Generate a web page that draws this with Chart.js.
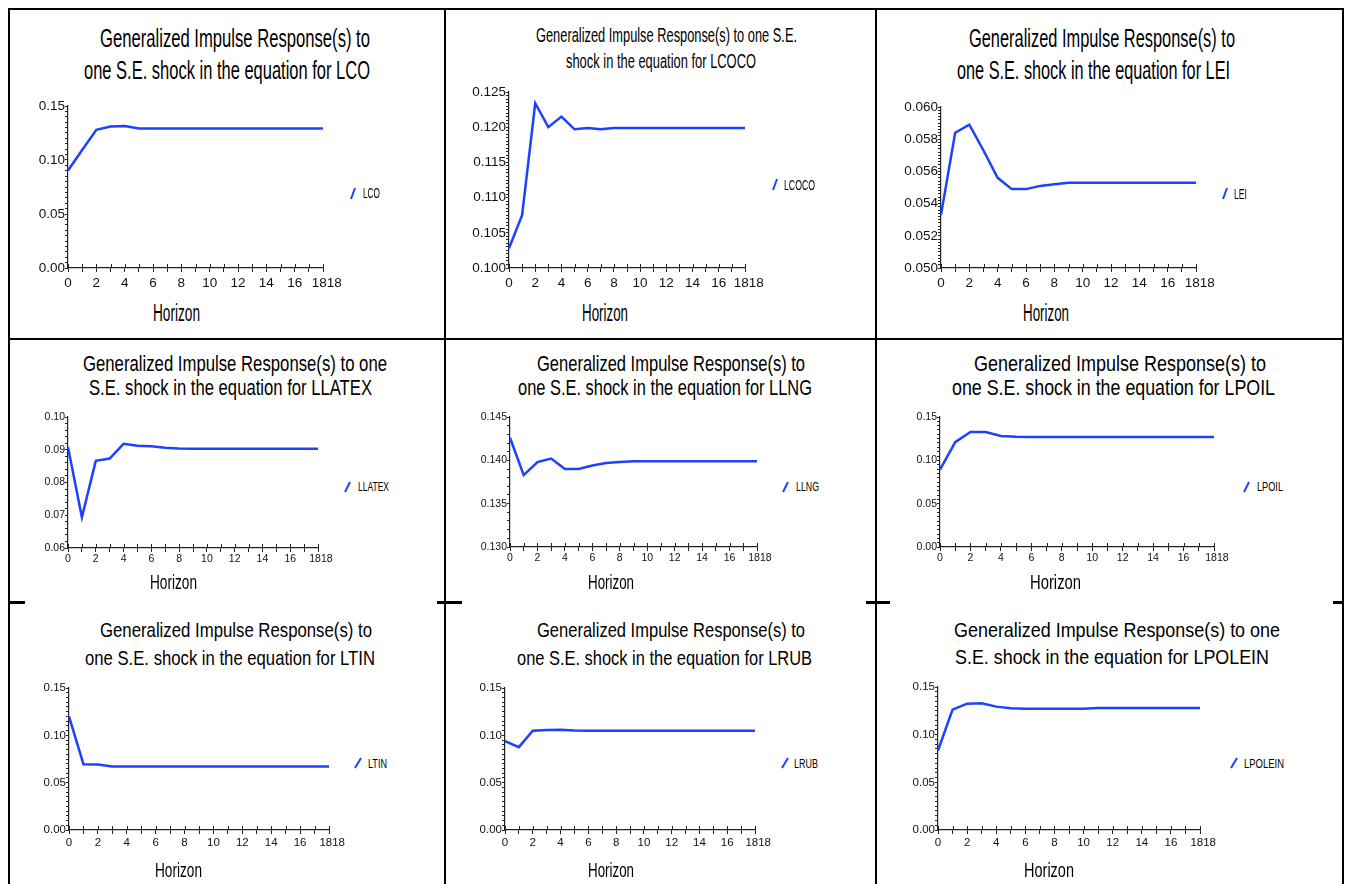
<!DOCTYPE html>
<html>
<head>
<meta charset="utf-8">
<script src="https://cdn.jsdelivr.net/npm/chart.js@4.4.1/dist/chart.umd.min.js"></script>
<style>
  body { margin: 0; background: #fff; width: 1348px; height: 884px; overflow: hidden; position: relative;
         font-family: "Liberation Sans", Arial, sans-serif; }
  .rule { position: absolute; background: #000; }
  .txt { position: absolute; white-space: nowrap; line-height: 1; color: #000; transform-origin: left top; }
  .box { position: absolute; }
  svg.slash { position: absolute; left: 0; top: 0; overflow: visible; }
</style>
</head>
<body>
<script>
// horizons 0..18
const horizons = ['0', '1', '2', '3', '4', '5', '6', '7', '8', '9', '10', '11', '12', '13', '14', '15', '16', '17', '18'];

// impulse responses
const respLCO     = [0.0902, 0.1092, 0.1280, 0.1310, 0.1315, 0.1292, 0.1292, 0.1292, 0.1292, 0.1292, 0.1292, 0.1292, 0.1292, 0.1292, 0.1292, 0.1292, 0.1292, 0.1292, 0.1292];
const respLCOCO   = [0.1028, 0.1075, 0.1234, 0.1200, 0.1215, 0.1197, 0.1199, 0.1197, 0.1199, 0.1199, 0.1199, 0.1199, 0.1199, 0.1199, 0.1199, 0.1199, 0.1199, 0.1199, 0.1199];
const respLEI     = [0.0533, 0.0584, 0.0589, 0.0573, 0.0556, 0.0549, 0.0549, 0.0551, 0.0552, 0.0553, 0.0553, 0.0553, 0.0553, 0.0553, 0.0553, 0.0553, 0.0553, 0.0553, 0.0553];
const respLLATEX  = [0.0908, 0.0694, 0.0866, 0.0873, 0.0918, 0.0912, 0.0911, 0.0906, 0.0904, 0.0903, 0.0903, 0.0903, 0.0903, 0.0903, 0.0903, 0.0903, 0.0903, 0.0903, 0.0903];
const respLLNG    = [0.1426, 0.1383, 0.1398, 0.1402, 0.1390, 0.1390, 0.1394, 0.1397, 0.1398, 0.1399, 0.1399, 0.1399, 0.1399, 0.1399, 0.1399, 0.1399, 0.1399, 0.1399, 0.1399];
const respLPOIL   = [0.0892, 0.1210, 0.1327, 0.1327, 0.1280, 0.1272, 0.1270, 0.1270, 0.1270, 0.1270, 0.1270, 0.1270, 0.1270, 0.1270, 0.1270, 0.1270, 0.1270, 0.1270, 0.1270];
const respLTIN    = [0.1200, 0.0695, 0.0693, 0.0672, 0.0670, 0.0670, 0.0670, 0.0670, 0.0670, 0.0670, 0.0670, 0.0670, 0.0670, 0.0670, 0.0670, 0.0670, 0.0670, 0.0670, 0.0670];
const respLRUB    = [0.0939, 0.0875, 0.1048, 0.1057, 0.1059, 0.1050, 0.1048, 0.1048, 0.1048, 0.1048, 0.1048, 0.1048, 0.1048, 0.1048, 0.1048, 0.1048, 0.1048, 0.1048, 0.1048];
const respLPOLEIN = [0.0834, 0.1262, 0.1325, 0.1330, 0.1294, 0.1276, 0.1272, 0.1272, 0.1272, 0.1272, 0.1272, 0.1281, 0.1281, 0.1281, 0.1281, 0.1281, 0.1281, 0.1281, 0.1281];

// y-axis ranges per panel: [min, max, labelled step, minor step, decimals]
const axisLCO     = [0, 0.15, 0.05, 0.005, 2];
const axisLCOCO   = [0.100, 0.125, 0.005, 0.0005, 3];
const axisLEI     = [0.050, 0.060, 0.002, 0.0002, 3];
const axisLLATEX  = [0.06, 0.10, 0.01, 0.002, 2];
const axisLLNG    = [0.130, 0.145, 0.005, 0.001, 3];
const axisLPOIL   = [0, 0.15, 0.05, 0.005, 2];
const axisLTIN    = [0, 0.15, 0.05, 0.005, 2];
const axisLRUB    = [0, 0.15, 0.05, 0.005, 2];
const axisLPOLEIN = [0, 0.15, 0.05, 0.005, 2];

const BLUE = '#1e40ff';
const AXIS = '#222';
const NARROW = '"Liberation Sans Narrow", "Arial Narrow", "Liberation Sans", Arial, sans-serif';

// layout: plot area [left, top, right, bottom], title lines [text, left, baseline, width], etc.
const panels = [
  { name: 'LCO', values: respLCO, axis: axisLCO, area: [68, 106, 323, 268], tickFont: 13.5, tickPad: 3,
    titleSize: 26.5, title: [['Generalized Impulse Response(s) to', 100, 48, 270], ['one S.E. shock in the equation for LCO', 84, 80, 286]],
    horizon: [153, 322, 47, 23], legend: [351, 199, 355, 188, 363, 198, 17, 14] },
  { name: 'LCOCO', values: respLCOCO, axis: axisLCOCO, area: [509, 92, 745, 268], tickFont: 13.5, tickPad: 3,
    titleSize: 20.5, title: [['Generalized Impulse Response(s) to one S.E.', 536, 42, 261], ['shock in the equation for LCOCO', 566, 68, 190]],
    horizon: [582, 322, 46, 23], legend: [773, 190, 777, 179, 784, 190, 31, 15] },
  { name: 'LEI', values: respLEI, axis: axisLEI, area: [941, 107, 1196, 268], tickFont: 13.5, tickPad: 3,
    titleSize: 26.5, title: [['Generalized Impulse Response(s) to', 969, 48, 266], ['one S.E. shock in the equation for LEI', 957, 80, 273]],
    horizon: [1023, 322, 46, 23], legend: [1223, 199, 1227, 188, 1234, 199, 13, 15] },
  { name: 'LLATEX', values: respLLATEX, axis: axisLLATEX, area: [68, 417, 318, 548], tickFont: 10.5, tickPad: 1,
    titleSize: 22, title: [['Generalized Impulse Response(s) to one', 83, 372, 304], ['S.E. shock in the equation for LLATEX', 89, 396, 283]],
    horizon: [150, 590, 47, 19.5], legend: [345, 492, 350, 482, 358, 491, 31, 12] },
  { name: 'LLNG', values: respLLNG, axis: axisLLNG, area: [510, 417, 757, 547], tickFont: 10.5, tickPad: 1,
    titleSize: 22, title: [['Generalized Impulse Response(s) to', 537, 372, 268], ['one S.E. shock in the equation for LLNG', 518, 396, 294]],
    horizon: [588, 590, 46, 19.5], legend: [783, 492, 788, 482, 796, 491, 23, 12] },
  { name: 'LPOIL', values: respLPOIL, axis: axisLPOIL, area: [940, 417, 1214, 547], tickFont: 10.5, tickPad: 1,
    titleSize: 22, title: [['Generalized Impulse Response(s) to', 974, 372, 292], ['one S.E. shock in the equation for LPOIL', 952, 396, 323]],
    horizon: [1030, 590, 51, 19.5], legend: [1244, 492, 1249, 482, 1257, 491, 26, 12] },
  { name: 'LTIN', values: respLTIN, axis: axisLTIN, area: [69, 688, 329, 830], tickFont: 11.5, tickPad: 2,
    titleSize: 21, title: [['Generalized Impulse Response(s) to', 100, 637, 272], ['one S.E. shock in the equation for LTIN', 85, 665, 290]],
    horizon: [155, 877, 47, 21], legend: [355, 768, 361, 758, 368, 768, 19, 12] },
  { name: 'LRUB', values: respLRUB, axis: axisLRUB, area: [505, 688, 755, 830], tickFont: 11.5, tickPad: 2,
    titleSize: 21, title: [['Generalized Impulse Response(s) to', 537, 637, 268], ['one S.E. shock in the equation for LRUB', 517, 665, 295]],
    horizon: [588, 877, 46, 21], legend: [782, 768, 788, 758, 794, 768, 24, 12] },
  { name: 'LPOLEIN', values: respLPOLEIN, axis: axisLPOLEIN, area: [938, 687, 1200, 830], tickFont: 11.5, tickPad: 2,
    titleSize: 21, title: [['Generalized Impulse Response(s) to one', 954, 637, 326], ['S.E. shock in the equation for LPOLEIN', 955, 664, 314]],
    horizon: [1024, 877, 50, 21], legend: [1231, 768, 1237, 758, 1244, 768, 40, 12] }
];

// table frame
function rule(x, y, w, h) {
  const d = document.createElement('div');
  d.className = 'rule';
  Object.assign(d.style, { left: x + 'px', top: y + 'px', width: w + 'px', height: h + 'px' });
  document.body.appendChild(d);
}
rule(8, 8, 1336, 2);
rule(8, 338, 1336, 2);
[8, 444, 875, 1342].forEach(x => rule(x, 8, 2, 876));
[[8, 17], [437, 25], [866, 24], [1333, 10]].forEach(([x, w]) => rule(x, 601, w, 3));

// text squeezed to the width it has in the picture
function putText(str, left, baseline, size, width) {
  const el = document.createElement('div');
  el.className = 'txt';
  el.textContent = str;
  el.style.fontSize = size + 'px';
  el.style.left = left + 'px';
  el.style.top = (baseline - size * 0.85) + 'px';
  document.body.appendChild(el);
  const w = el.getBoundingClientRect().width;
  el.style.transform = 'scaleX(' + (width / w) + ')';
}

function putSlash(x1, y1, x2, y2) {
  const ns = 'http://www.w3.org/2000/svg';
  const svg = document.createElementNS(ns, 'svg');
  svg.setAttribute('class', 'slash');
  svg.setAttribute('width', '1');
  svg.setAttribute('height', '1');
  const ln = document.createElementNS(ns, 'line');
  ln.setAttribute('x1', x1); ln.setAttribute('y1', y1);
  ln.setAttribute('x2', x2); ln.setAttribute('y2', y2);
  ln.setAttribute('stroke', BLUE); ln.setAttribute('stroke-width', '2');
  svg.appendChild(ln);
  document.body.appendChild(svg);
}

// x ticks cross the axis
const crossTicks = {
  id: 'crossTicks',
  afterDraw(chart) {
    const { ctx, chartArea } = chart;
    const x = chart.scales.x;
    ctx.save();
    ctx.strokeStyle = AXIS;
    ctx.lineWidth = 1;
    x.ticks.forEach((t, i) => {
      const px = Math.round(x.getPixelForTick(i)) + 0.5;
      ctx.beginPath();
      ctx.moveTo(px, chartArea.bottom);
      ctx.lineTo(px, chartArea.bottom - 4);
      ctx.stroke();
    });
    ctx.restore();
  }
};

panels.forEach(p => {
  const [L, T, R, B] = p.area;
  const [yMin, yMax, major, minor, dec] = p.axis;
  const padL = 50, padT = 10, padR = 30, padB = 30;

  const box = document.createElement('div');
  box.className = 'box';
  Object.assign(box.style, {
    left: (L - padL) + 'px', top: (T - padT) + 'px',
    width: (R - L + padL + padR) + 'px', height: (B - T + padT + padB) + 'px'
  });
  const cv = document.createElement('canvas');
  box.appendChild(cv);
  document.body.appendChild(box);

  new Chart(cv, {
    type: 'line',
    data: {
      labels: horizons,
      datasets: [{
        label: p.name,
        data: p.values,
        borderColor: BLUE,
        borderWidth: 2.5,
        pointRadius: 0,
        tension: 0,
        fill: false
      }]
    },
    options: {
      responsive: true,
      maintainAspectRatio: false,
      animation: false,
      layout: { padding: { left: 0, top: padT, right: padR, bottom: 0 } },
      plugins: { legend: { display: false }, tooltip: { enabled: false } },
      scales: {
        x: {
          offset: false,
          grid: { drawOnChartArea: false, tickLength: 4, tickColor: AXIS },
          border: { color: AXIS, width: 1.2 },
          ticks: {
            autoSkip: false, maxRotation: 0, padding: p.tickPad, color: '#111',
            font: { family: NARROW, size: p.tickFont },
            callback(v, i) {
              const lab = this.getLabelForValue(v);
              if (i === horizons.length - 1) return '  ' + lab + lab;
              return i % 2 === 0 ? lab : '';
            }
          },
          afterFit(s) { s.height = padB; s.paddingLeft = 0; s.paddingRight = 0; }
        },
        y: {
          min: yMin, max: yMax,
          grid: { drawOnChartArea: false, tickLength: 3, tickColor: AXIS },
          border: { color: AXIS, width: 1.2 },
          ticks: {
            stepSize: minor, autoSkip: false, padding: 0, color: '#111',
            font: { family: NARROW, size: p.tickFont },
            callback(v) {
              const k = v / major;
              return Math.abs(k - Math.round(k)) < 1e-6 ? v.toFixed(dec) : '';
            }
          },
          afterFit(s) { s.width = padL; s.paddingTop = 0; s.paddingBottom = 0; }
        }
      }
    },
    plugins: [crossTicks]
  });

  p.title.forEach(([str, left, base, w]) => putText(str, left, base, p.titleSize, w));
  const [hl, hb, hw, hs] = p.horizon;
  putText('Horizon', hl, hb, hs, hw);
  const [sx1, sy1, sx2, sy2, tl, tb, tw, ts] = p.legend;
  putSlash(sx1, sy1, sx2, sy2);
  putText(p.name, tl, tb, ts, tw);
});
</script>
</body>
</html>
